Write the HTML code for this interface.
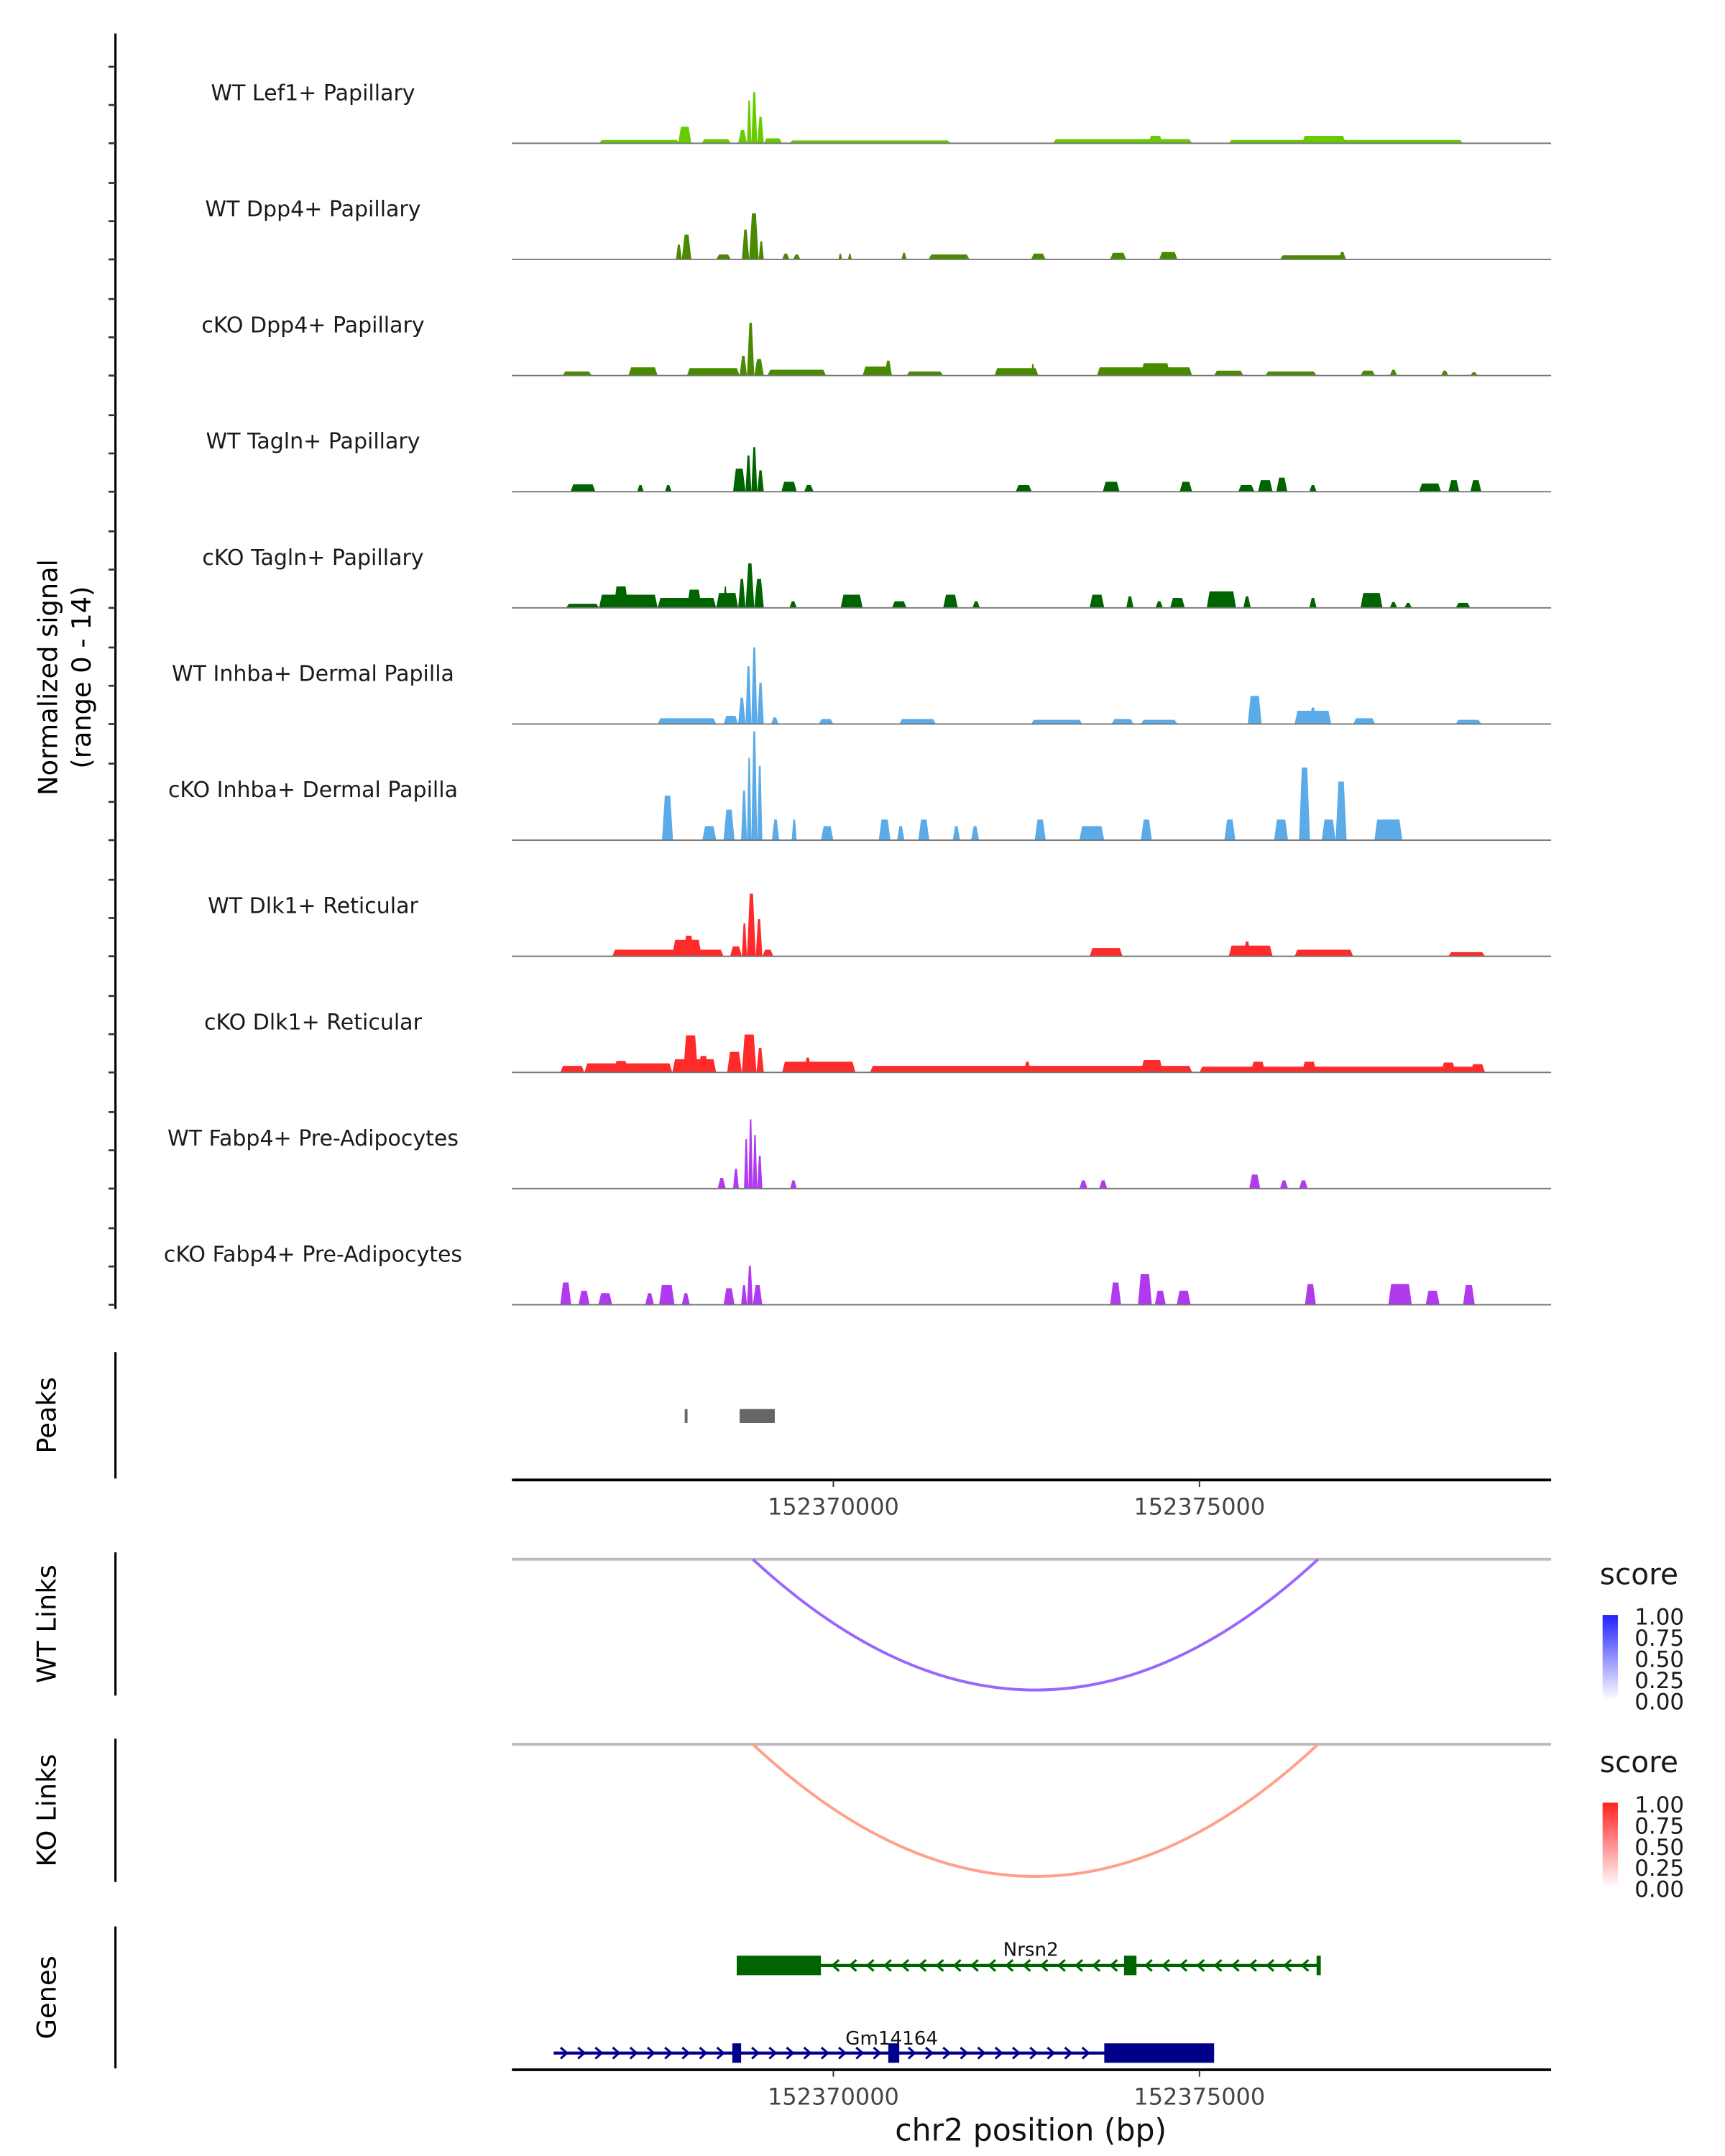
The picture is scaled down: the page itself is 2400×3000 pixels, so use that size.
<!DOCTYPE html>
<html><head><meta charset="utf-8">
<style>
html,body{margin:0;padding:0;background:#fff;}
svg{display:block;}
text{font-family:"DejaVu Sans","Liberation Sans",sans-serif;}
</style></head>
<body>
<svg id="chart" width="2400" height="3000" viewBox="0 0 1240 1550" preserveAspectRatio="none" xmlns="http://www.w3.org/2000/svg">
<rect width="1240" height="1550" fill="#fff"/>
<g id="tracks"></g>
<g id="lower"></g>
</svg>
<script>
// ---- data (positions in kb offset from 152,365,000; signal 0-14) ----
const trackNames = ["WT Lef1+ Papillary","WT Dpp4+ Papillary","cKO Dpp4+ Papillary","WT Tagln+ Papillary","cKO Tagln+ Papillary","WT Inhba+ Dermal Papilla","cKO Inhba+ Dermal Papilla","WT Dlk1+ Reticular","cKO Dlk1+ Reticular","WT Fabp4+ Pre-Adipocytes","cKO Fabp4+ Pre-Adipocytes"];
const trackColors = ["#66cc00","#4a8a00","#4a8a00","#006400","#006400","#5aabe8","#5aabe8","#ff2a2a","#ff2a2a","#b23aee","#b23aee"];
const lef1WT = [[1.8,2.9,0.4],[2.88,3.06,2.0],[3.2,3.6,0.5],[3.7,3.82,1.6],[3.82,3.88,5.2],[3.88,3.96,6.2],[3.96,4.05,3.2],[4.05,4.3,0.6],[4.4,6.6,0.35],[8.0,9.9,0.5],[9.3,9.5,0.9],[10.4,13.6,0.4],[11.4,12.0,0.9]];
const dpp4WT = [[2.85,2.93,1.8],[2.93,3.06,3.0],[3.4,3.6,0.6],[3.75,3.85,3.6],[3.85,3.98,5.6],[3.98,4.05,2.2],[4.3,4.4,0.7],[4.45,4.55,0.6],[5.07,5.12,0.7],[5.2,5.25,0.7],[5.93,6.0,0.8],[6.3,6.86,0.6],[7.7,7.9,0.7],[8.78,9.0,0.8],[9.45,9.7,0.9],[11.1,12.0,0.5],[11.9,12.0,0.9]];
const dpp4KO = [[1.3,1.7,0.5],[2.2,2.6,1.0],[3.0,3.72,0.9],[3.72,3.82,2.4],[3.82,3.92,6.4],[3.92,4.05,2.0],[4.1,4.9,0.7],[5.4,5.8,1.1],[5.7,5.8,1.8],[6.0,6.5,0.5],[7.2,7.8,0.9],[7.7,7.75,1.4],[8.6,9.9,1.0],[9.2,9.6,1.5],[10.2,10.6,0.6],[10.9,11.6,0.5],[12.2,12.4,0.6],[12.6,12.7,0.7],[13.3,13.4,0.6],[13.7,13.8,0.4]];
const taglnWT = [[1.41,1.75,0.9],[2.32,2.41,0.8],[2.7,2.79,0.8],[3.63,3.8,2.8],[3.8,3.88,4.4],[3.88,3.96,5.4],[3.96,4.05,2.6],[4.29,4.5,1.2],[4.6,4.73,0.8],[7.49,7.71,0.8],[8.68,8.91,1.2],[9.73,9.9,1.2],[10.53,10.75,0.8],[10.8,11.0,1.4],[11.05,11.2,1.7],[11.5,11.6,0.8],[13.0,13.3,1.0],[13.4,13.55,1.4],[13.7,13.85,1.4]];
const taglnKO = [[1.35,1.8,0.5],[1.8,2.6,1.6],[2.0,2.2,2.6],[2.6,3.4,1.2],[3.0,3.2,2.2],[3.4,3.7,1.8],[3.5,3.55,2.6],[3.7,3.8,3.5],[3.8,3.92,5.4],[3.92,4.05,3.5],[4.4,4.5,0.8],[5.1,5.4,1.6],[5.8,6.0,0.8],[6.5,6.7,1.6],[6.9,7.0,0.8],[8.5,8.7,1.6],[9.0,9.1,1.4],[9.4,9.5,0.8],[9.6,9.8,1.2],[10.1,10.5,2.0],[10.6,10.7,1.4],[11.5,11.6,1.2],[12.2,12.5,1.8],[12.6,12.7,0.7],[12.8,12.9,0.6],[13.5,13.7,0.6]];
const inhbaWT = [[2.6,3.4,0.7],[3.5,3.7,1.0],[3.7,3.8,3.2],[3.8,3.88,7.0],[3.88,3.96,9.3],[3.96,4.05,5.0],[4.15,4.25,0.8],[4.8,5.0,0.6],[5.9,6.4,0.6],[7.7,8.4,0.5],[8.8,9.1,0.6],[9.2,9.7,0.5],[10.66,10.85,3.4],[11.3,11.8,1.6],[11.5,11.6,2.0],[12.1,12.4,0.7],[13.5,13.85,0.5]];
const inhbaKO = [[2.66,2.81,5.4],[3.21,3.4,1.7],[3.5,3.65,3.7],[3.74,3.82,6.0],[3.82,3.88,10.0],[3.88,3.96,13.2],[3.96,4.03,9.0],[4.16,4.26,2.5],[4.43,4.5,2.5],[4.83,5.0,1.7],[5.62,5.78,2.5],[5.87,5.97,1.7],[6.16,6.31,2.5],[6.63,6.73,1.7],[6.88,6.99,1.7],[7.75,7.9,2.5],[8.36,8.7,1.7],[9.2,9.35,2.5],[10.34,10.49,2.5],[11.02,11.21,2.5],[11.36,11.51,8.8],[11.67,11.86,2.5],[11.86,12.01,7.1],[12.39,12.77,2.5]];
const dlk1WT = [[1.98,3.5,0.8],[2.8,3.2,2.0],[2.95,3.1,2.5],[3.59,3.75,1.2],[3.75,3.82,4.0],[3.82,3.94,7.6],[3.94,4.03,4.5],[4.03,4.18,0.8],[8.5,8.95,1.0],[10.4,11.0,1.3],[10.6,10.7,1.8],[11.3,12.1,0.8],[13.4,13.9,0.5]];
const dlk1KO = [[1.27,1.6,0.8],[1.6,2.8,1.1],[2.0,2.2,1.4],[2.8,3.4,1.6],[2.95,3.15,4.5],[3.15,3.3,2.0],[3.55,3.75,2.5],[3.75,3.95,4.6],[3.95,4.05,3.0],[4.3,5.3,1.3],[4.6,4.7,1.8],[5.5,9.9,0.8],[7.6,7.7,1.3],[9.2,9.5,1.5],[10.0,13.8,0.7],[10.7,10.9,1.3],[11.4,11.6,1.3],[13.3,13.5,1.2],[13.7,13.9,1.0]];
const fabp4WT = [[3.42,3.53,1.3],[3.63,3.71,2.4],[3.78,3.84,6.0],[3.84,3.9,8.4],[3.9,3.96,6.5],[3.96,4.03,4.0],[4.41,4.5,1.0],[8.36,8.47,1.0],[8.63,8.74,1.0],[10.68,10.83,1.7],[11.1,11.21,1.0],[11.36,11.48,1.0]];
const fabp4KO = [[1.27,1.42,2.7],[1.52,1.67,1.7],[1.79,1.98,1.4],[2.43,2.55,1.4],[2.62,2.83,2.4],[2.93,3.04,1.4],[3.5,3.65,2.0],[3.74,3.82,2.4],[3.82,3.9,4.7],[3.9,4.03,2.4],[8.78,8.93,2.7],[9.16,9.35,3.7],[9.39,9.54,1.7],[9.69,9.88,1.7],[11.44,11.59,2.5],[12.58,12.9,2.5],[13.09,13.28,1.7],[13.6,13.76,2.4]];
const trackData = [lef1WT,dpp4WT,dpp4KO,taglnWT,taglnKO,inhbaWT,inhbaKO,dlk1WT,dlk1KO,fabp4WT,fabp4KO];
const trackSlugs = ["wt-lef1","wt-dpp4","cko-dpp4","wt-tagln","cko-tagln","wt-inhba","cko-inhba","wt-dlk1","cko-dlk1","wt-fabp4","cko-fabp4"];
const peakRegions = [[2.97,3.0],[3.72,4.2]];
const xTickValues = [5.0,10.0];
const xTickLabels = ["152370000","152375000"];
const linkStarts = [3.9];
const linkEnds = [11.62];
const wtLinkScores = [0.55];
const koLinkScores = [0.45];
const legendLabels = ["1.00","0.75","0.50","0.25","0.00"];
const nrsn2Exons = [[3.68,4.83],[8.97,9.14],[11.6,11.62]];
const nrsn2Span = [3.68,11.62];
const gmExons = [[3.62,3.74],[5.75,5.9],[8.7,10.2]];
const gmSpan = [1.18,10.2];

// ---- scales ----
const X0=368, X1=1115;
function xs(kb){ return X0 + (kb*1000 - 610)/19; }
const SIG_PX = 83/14;
const baseY0 = 103, trackStep = 83.5;

const NS="http://www.w3.org/2000/svg";
function mk(tag, attrs, parent){ const e=document.createElementNS(NS,tag); for(const k in attrs) e.setAttribute(k,attrs[k]); parent.appendChild(e); return e; }
const tg=document.getElementById('tracks');
const lg=document.getElementById('lower');

let ax=mk('line',{x1:83,y1:24,x2:83,y2:941,stroke:'#000','stroke-width':1.6},tg);


let yt=mk('text',{x:0,y:0,'font-size':19,'text-anchor':'middle',transform:'translate(41,487) rotate(-90)'},tg);


yt.textContent='Normalized signal';
let yt2=mk('text',{x:0,y:0,'font-size':19,'text-anchor':'middle',transform:'translate(65,487) rotate(-90)'},tg);


yt2.textContent='(range 0 - 14)';

trackData.forEach((arr,i)=>{
  const base = baseY0 + i*trackStep;
  const g=mk('g',{},tg);
  
  
  [0,27.5,55].forEach(off=>{
    const t=mk('line',{x1:78,x2:83,y1:base-off,y2:base-off,stroke:'#333','stroke-width':1.4},g);
    
    
  });
  const lab=mk('text',{x:225,y:base-31,'font-size':15.5,'text-anchor':'middle',fill:'#1a1a1a'},g);
  
  
  lab.textContent=trackNames[i];
  let d='';
  arr.forEach(b=>{
    const a=xs(b[0]), c=xs(b[1]), h=b[2]*SIG_PX;
    const s=Math.min(2,(c-a)/3);
    d+=`M${a},${base}L${a+s},${base-h}L${c-s},${base-h}L${c},${base}Z`;
  });
  const p=mk('path',{d:d,fill:trackColors[i]},g);
  
  
  const bl=mk('line',{x1:X0,x2:X1,y1:base,y2:base,stroke:'#777','stroke-width':1},g);
  
  
});

function panel(name,label,y1,y2){
  const l=mk('line',{x1:83,x2:83,y1:y1,y2:y2,stroke:'#000','stroke-width':1.6},lg);
  
  
  const t=mk('text',{x:0,y:0,'font-size':19,'text-anchor':'middle',transform:`translate(40,${(y1+y2)/2}) rotate(-90)`},lg);
  
  
  t.textContent=label;
}
panel('peaks','Peaks',972,1063);
panel('wt-links','WT Links',1116,1219);
panel('ko-links','KO Links',1250,1353);
panel('genes','Genes',1385,1487);

peakRegions.forEach(r=>{
  const a=xs(r[0]), c=xs(r[1]);
  const pr=mk('rect',{x:a,y:1013,width:Math.max(2,c-a),height:10,fill:'#666'},lg);
  
  
});

function xAxis(y,name){
  const l=mk('line',{x1:X0,x2:X1,y1:y,y2:y,stroke:'#000','stroke-width':2},lg);
  
  
  xTickValues.forEach((v,i)=>{
    const tx=xs(v);
    const t=mk('line',{x1:tx,x2:tx,y1:y,y2:y+5,stroke:'#333','stroke-width':1},lg);
    
    
    const tl=mk('text',{x:tx,y:y+25,'font-size':16.5,'text-anchor':'middle',fill:'#444'},lg);
    
    
    tl.textContent=xTickLabels[i];
  });
}
xAxis(1064,'peaks-x-axis');

function links(y0,y1,color,scores,legendY,gradId,topColor,name){
  const gl=mk('line',{x1:X0,x2:X1,y1:y0,y2:y0,stroke:'#bbb','stroke-width':2},lg);
  
  
  linkStarts.forEach((s,i)=>{
    const a=xs(s), b=xs(linkEnds[i]);
    const cy=y0+2*(y1-y0);
    const arc=mk('path',{d:`M${a},${y0}Q${(a+b)/2},${cy} ${b},${y0}`,fill:'none',stroke:color,'stroke-width':2},lg);
    
    
  });
  const defs=mk('defs',{},lg);
  const gr=mk('linearGradient',{id:gradId,x1:0,y1:1,x2:0,y2:0},defs);
  mk('stop',{offset:0,'stop-color':'#ffffff'},gr);
  mk('stop',{offset:1,'stop-color':topColor},gr);
  const st=mk('text',{x:1150,y:legendY,'font-size':21,fill:'#1a1a1a'},lg);
  
  
  st.textContent='score';
  const bar=mk('rect',{x:1152,y:legendY+22,width:11,height:61,fill:`url(#${gradId})`},lg);
  
  
  legendLabels.forEach((t,i)=>{
    const tt=mk('text',{x:1175,y:legendY+29+i*15.2,'font-size':16,fill:'#1a1a1a'},lg);
    
    
    tt.textContent=t;
  });
}
links(1121,1215,'#9966ff',wtLinkScores,1139,'gwt','#2222ff','wt-links');
links(1254,1349,'#ffa088',koLinkScores,1274,'gko','#ff2222','ko-links');

function gene(name,span,exons,y,color,dir,labelX,labelY){
  const g=mk('g',{},lg);
  
  
  const a=xs(span[0]), b=xs(span[1]);
  mk('line',{x1:a,x2:b,y1:y,y2:y,stroke:color,'stroke-width':2.2},g);
  for(let x=a+8;x<b-4;x+=12.5){
    if(exons.some(e=>x>xs(e[0])-4&&x<xs(e[1])+4)) continue;
    const pts = dir<0 ? `${x+3},${y-4} ${x-1.5},${y} ${x+3},${y+4}` : `${x-3},${y-4} ${x+1.5},${y} ${x-3},${y+4}`;
    mk('polyline',{points:pts,fill:'none',stroke:color,'stroke-width':1.6},g);
  }
  exons.forEach(e=>{
    const r=mk('rect',{x:xs(e[0]),y:y-7,width:Math.max(3,xs(e[1])-xs(e[0])),height:14,fill:color},g);
    
    
  });
  const t=mk('text',{x:labelX,y:labelY,'font-size':13.5,'text-anchor':'middle',fill:'#111'},g);
  
  
  t.textContent=name;
}
gene('Nrsn2',nrsn2Span,nrsn2Exons,1413,'#006400',-1,741,1406);
gene('Gm14164',gmSpan,gmExons,1476,'#00008b',1,641,1470);

xAxis(1488,'genes-x-axis');
const xt=mk('text',{x:741,y:1539,'font-size':22,'text-anchor':'middle',fill:'#111'},lg);


xt.textContent='chr2 position (bp)';
</script>
</body></html>
